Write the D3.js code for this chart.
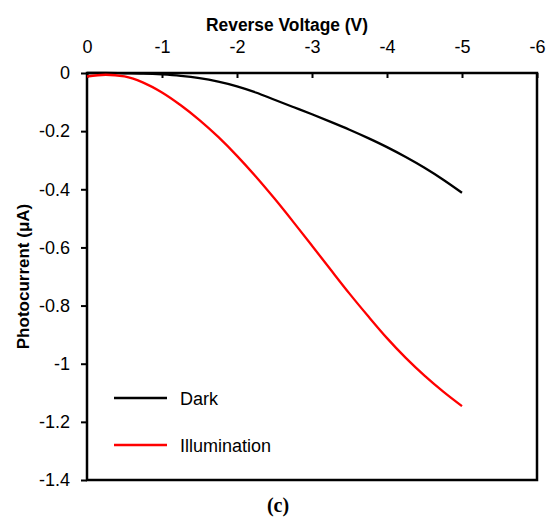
<!DOCTYPE html>
<html>
<head>
<meta charset="utf-8">
<script src="https://cdn.jsdelivr.net/npm/d3@7"></script>
<style>
  html, body { margin: 0; padding: 0; background: #fff; }
  svg { display: block; }
  text { font-family: "Liberation Sans", Arial, sans-serif; fill: #000; }
</style>
</head>
<body>
<svg id="chart" width="553" height="519"></svg>
<script>
// Reverse bias sweep (V)
const voltage = [0, -0.25, -0.5, -0.75, -1, -1.25, -1.5, -1.75, -2, -2.25, -2.5,
                 -2.75, -3, -3.25, -3.5, -3.75, -4, -4.25, -4.5, -4.75, -5];
// Dark current (µA)
const darkCurrent = [0, 0, -0.001, -0.002, -0.005, -0.010, -0.018, -0.030, -0.046, -0.067, -0.092,
                     -0.117, -0.142, -0.168, -0.195, -0.224, -0.255, -0.289, -0.326, -0.367, -0.412];
// Photocurrent under illumination (µA)
const illumCurrent = [-0.012, -0.006, -0.012, -0.033, -0.067, -0.111, -0.162, -0.220, -0.285, -0.356, -0.432,
                      -0.512, -0.594, -0.677, -0.759, -0.837, -0.912, -0.980, -1.041, -1.096, -1.146];
const xTicks = [0, -1, -2, -3, -4, -5, -6];
const yTicks = [0, -0.2, -0.4, -0.6, -0.8, -1, -1.2, -1.4];
const seriesNames = ["Dark", "Illumination"];
const seriesColors = ["#000000", "#ff0000"];

const svg = d3.select("#chart");
const plotLeft = 87, plotRight = 537, plotTop = 73, plotBottom = 480;

const x = d3.scaleLinear().domain([0, -6]).range([plotLeft, plotRight]);
const y = d3.scaleLinear().domain([0, -1.4]).range([plotTop, plotBottom]);

// top axis (ticks point into the plot)
const xAxis = svg.append("g")
  .attr("transform", `translate(0,${plotTop})`)
  .call(d3.axisTop(x).tickValues(xTicks).tickFormat(d => d === 0 ? "0" : String(d))
        .tickSizeInner(-5).tickSizeOuter(0).tickPadding(20));
xAxis.select(".domain").remove();
xAxis.selectAll(".tick line").attr("stroke", "#000").attr("stroke-width", 2);
xAxis.selectAll(".tick text").attr("font-size", 18).attr("fill", "#000");

// left axis (ticks point outward)
const yAxis = svg.append("g")
  .attr("transform", `translate(${plotLeft},0)`)
  .call(d3.axisLeft(y).tickValues(yTicks).tickFormat(d => d === 0 ? "0" : String(d))
        .tickSizeInner(6).tickSizeOuter(0).tickPadding(11));
yAxis.select(".domain").remove();
yAxis.selectAll(".tick line").attr("stroke", "#000").attr("stroke-width", 2);
yAxis.selectAll(".tick text").attr("font-size", 18).attr("fill", "#000");

// plot frame
svg.append("rect")
  .attr("x", plotLeft).attr("y", plotTop)
  .attr("width", plotRight - plotLeft).attr("height", plotBottom - plotTop)
  .attr("fill", "none").attr("stroke", "#000").attr("stroke-width", 2.5);

// curves
const line = d3.line().curve(d3.curveMonotoneX)
  .x((d, i) => x(voltage[i])).y(d => y(d));
[darkCurrent, illumCurrent].forEach((s, k) => {
  svg.append("path")
    .attr("d", line(s))
    .attr("fill", "none")
    .attr("stroke", seriesColors[k])
    .attr("stroke-width", 2.3);
});

// legend
const legendY = [398, 445];
seriesNames.forEach((name, k) => {
  svg.append("line")
    .attr("x1", 114).attr("x2", 167)
    .attr("y1", legendY[k]).attr("y2", legendY[k])
    .attr("stroke", seriesColors[k]).attr("stroke-width", 2.3);
  svg.append("text")
    .attr("x", 180).attr("y", legendY[k] + 7)
    .attr("font-size", 18)
    .text(name);
});

// axis titles
svg.append("text")
  .attr("x", 287).attr("y", 31)
  .attr("text-anchor", "middle")
  .attr("font-size", 18).attr("font-weight", "bold")
  .attr("textLength", 162).attr("lengthAdjust", "spacingAndGlyphs")
  .text("Reverse Voltage (V)");

svg.append("text")
  .attr("transform", `translate(29,${(plotTop + plotBottom) / 2}) rotate(-90)`)
  .attr("text-anchor", "middle")
  .attr("font-size", 17).attr("font-weight", "bold")
  .text("Photocurrent (μA)");

// panel label (serif)
svg.append("text")
  .attr("x", 278).attr("y", 512)
  .attr("text-anchor", "middle")
  .style("font-family", "'Liberation Serif', 'Times New Roman', serif")
  .attr("font-size", 20).attr("font-weight", "bold")
  .text("(c)");
</script>
</body>
</html>
